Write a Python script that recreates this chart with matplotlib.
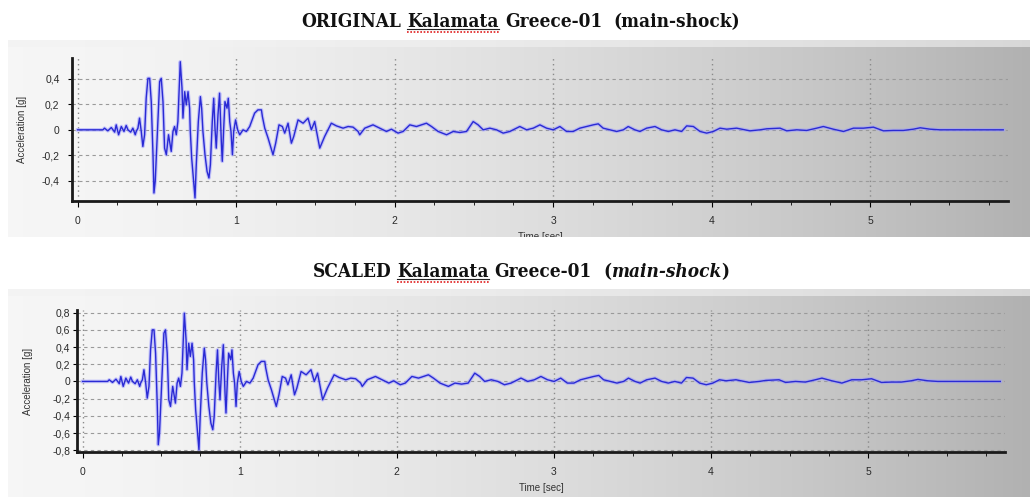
import numpy as np
import matplotlib
matplotlib.use("Agg")
import matplotlib.pyplot as plt
from matplotlib.ticker import FuncFormatter, MultipleLocator
from matplotlib.transforms import Bbox

# accelerogram (time in s, acceleration in g)
time_s = [
    0.000, 0.160, 0.170, 0.191, 0.213, 0.234, 0.244, 0.259, 0.276, 0.293,
    0.307, 0.318, 0.335, 0.349, 0.364, 0.370, 0.381, 0.391, 0.402, 0.412,
    0.423, 0.433, 0.444, 0.455, 0.465, 0.476, 0.482, 0.490, 0.503, 0.518,
    0.528, 0.539, 0.549, 0.560, 0.574, 0.591, 0.602, 0.612, 0.623, 0.633,
    0.648, 0.659, 0.665, 0.676, 0.686, 0.697, 0.707, 0.711, 0.720, 0.732,
    0.741, 0.749, 0.762, 0.775, 0.783, 0.791, 0.804, 0.817, 0.829, 0.838,
    0.850, 0.859, 0.867, 0.875, 0.886, 0.896, 0.907, 0.913, 0.922, 0.930,
    0.943, 0.951, 0.960, 0.968, 0.977, 0.985, 0.997, 1.010, 1.023, 1.044,
    1.065, 1.086, 1.117, 1.138, 1.160, 1.166, 1.181, 1.202, 1.233, 1.250,
    1.271, 1.292, 1.307, 1.328, 1.349, 1.364, 1.391, 1.423, 1.454, 1.475,
    1.496, 1.528, 1.559, 1.601, 1.633, 1.675, 1.707, 1.738, 1.770, 1.780,
    1.812, 1.864, 1.907, 1.949, 1.980, 2.022, 2.054, 2.096, 2.138, 2.201,
    2.233, 2.275, 2.328, 2.370, 2.412, 2.454, 2.496, 2.527, 2.559, 2.601,
    2.643, 2.685, 2.727, 2.790, 2.833, 2.875, 2.917, 2.959, 3.001, 3.043,
    3.085, 3.127, 3.169, 3.211, 3.253, 3.285, 3.316, 3.359, 3.401, 3.443,
    3.474, 3.516, 3.548, 3.590, 3.643, 3.685, 3.727, 3.769, 3.811, 3.843,
    3.885, 3.927, 3.969, 4.011, 4.053, 4.095, 4.158, 4.242, 4.306, 4.348,
    4.432, 4.474, 4.537, 4.600, 4.663, 4.705, 4.768, 4.832, 4.895, 4.958,
    5.021, 5.084, 5.147, 5.210, 5.273, 5.316, 5.379, 5.442, 5.840,
]
accel_g = [
    0.000, 0.000, 0.013, -0.008, 0.018, -0.018, 0.039, -0.039, 0.026, -0.013,
    0.034, 0.000, -0.018, 0.013, -0.039, -0.013, 0.013, 0.092, -0.013, -0.131,
    -0.039, 0.248, 0.405, 0.405, 0.222, -0.196, -0.497, -0.405, -0.039, 0.379,
    0.405, 0.222, -0.144, -0.196, -0.039, -0.170, -0.013, 0.026, -0.039, 0.065,
    0.536, 0.327, 0.092, 0.300, 0.196, 0.300, 0.170, 0.000, -0.222, -0.405,
    -0.536, -0.275, 0.065, 0.261, 0.170, -0.013, -0.196, -0.327, -0.379, -0.275,
    0.065, 0.248, 0.013, -0.144, 0.118, 0.288, -0.092, -0.248, 0.013, 0.222,
    0.170, 0.248, 0.065, -0.013, -0.196, -0.013, 0.078, 0.000, -0.039, 0.000,
    -0.013, 0.026, 0.131, 0.157, 0.157, 0.105, 0.013, -0.065, -0.196, -0.105,
    0.039, 0.026, -0.026, 0.052, -0.105, -0.052, 0.078, 0.052, 0.092, 0.000,
    0.065, -0.144, -0.052, 0.052, 0.031, 0.013, 0.026, 0.021, -0.013, -0.039,
    0.013, 0.039, 0.013, -0.013, 0.005, -0.026, -0.013, 0.039, 0.026, 0.052,
    0.026, -0.013, -0.039, -0.013, -0.021, -0.013, 0.065, 0.039, 0.000, 0.013,
    0.000, -0.026, -0.013, 0.026, 0.000, 0.013, 0.039, 0.013, 0.000, 0.026,
    -0.013, -0.013, 0.013, 0.026, 0.039, 0.047, 0.013, 0.000, -0.013, 0.000,
    0.026, 0.000, -0.013, 0.013, 0.026, 0.000, -0.013, 0.000, -0.013, 0.031,
    0.026, -0.013, -0.026, -0.013, 0.013, 0.005, 0.013, -0.008, 0.000, 0.008,
    0.013, -0.008, 0.000, -0.005, 0.013, 0.026, 0.005, -0.013, 0.013, 0.013,
    0.021, -0.008, -0.005, -0.005, 0.005, 0.016, 0.005, 0.000, 0.000,
]
# the SCALED record is the same accelerogram times this factor
scale_factor = 1.48

x_ticks = [0, 1, 2, 3, 4, 5]
y_ticks_orig = [-0.4, -0.2, 0, 0.2, 0.4]
y_ticks_scaled = [-0.8, -0.6, -0.4, -0.2, 0, 0.2, 0.4, 0.6, 0.8]

W, H = 1030, 497
fig = plt.figure(figsize=(W / 100, H / 100), dpi=100)
fig.patch.set_facecolor("white")

# background canvas in pixel coords for the grey gradient panels
bg = fig.add_axes([0, 0, 1, 1], zorder=-10)
ramp = np.linspace(0, 1, 600)
shade = 0.965 - 0.27 * ramp ** 1.6
img = np.dstack([shade, shade, shade])
panels = [(8, W, 40, 237), (8, W, 289, 497)]
for x0, x1, y0, y1 in panels:
    bg.imshow(img, extent=(x0, x1, y1, y0), aspect="auto", interpolation="bilinear")
    bg.axhspan(y0, y0 + 7, xmin=x0 / W, xmax=1, color="#f2f2f2", alpha=0.6, lw=0)
bg.set_xlim(0, W)
bg.set_ylim(H, 0)
bg.axis("off")


def comma_fmt(v, pos):
    if abs(v) < 1e-9:
        return "0"
    return f"{v:.1f}".replace(".", ",")


def setup_axes(rect, y_ticks, ylim, ypad, clip_px):
    ax = fig.add_axes(rect)
    ax.patch.set_visible(False)
    ax.set_xlim(-0.035, 5.87)
    ax.set_ylim(*ylim)
    ax.set_xticks(x_ticks)
    ax.set_yticks(y_ticks)
    ax.xaxis.set_minor_locator(MultipleLocator(0.25))
    ax.yaxis.set_major_formatter(FuncFormatter(comma_fmt))
    for s in ["top", "right"]:
        ax.spines[s].set_visible(False)
    for s in ["left", "bottom"]:
        ax.spines[s].set_linewidth(2.0)
        ax.spines[s].set_color("#1a1a1a")
    ax.tick_params(axis="x", which="major", labelsize=7.5, length=4, width=0.8,
                   pad=7, labelcolor="#2a2a2a", labelfontfamily="Liberation Sans")
    ax.tick_params(axis="x", which="minor", length=3, width=0.6)
    ax.tick_params(axis="y", labelsize=7.5, length=3, width=0.8, pad=ypad,
                   labelcolor="#2a2a2a", labelfontfamily="Liberation Sans")
    ax.yaxis.grid(True, linestyle=(0, (3, 3)), color="#9a9a9a", lw=0.8)
    ax.xaxis.grid(True, linestyle=(0, (1, 2.5)), color="#8a8a8a", lw=1.0)
    ax.set_axisbelow(True)
    ax.set_ylabel("Acceleration [g]", fontsize=7, family="Liberation Sans", color="#333333")
    xl = ax.set_xlabel("Time [sec]", fontsize=7, family="Liberation Sans", color="#333333")
    ax.xaxis.set_label_coords(0.5, -0.22)
    xl.set_clip_box(Bbox.from_extents(clip_px[0], H - clip_px[3], clip_px[1], H - clip_px[2]))
    xl.set_clip_on(True)
    return ax


ax1 = setup_axes([72 / W, 1 - 201 / H, 936 / W, 143 / H], y_ticks_orig,
                 (-0.56, 0.565), 6, panels[0])
ax1.yaxis.set_label_coords(-0.048, 0.5)
ax2 = setup_axes([77 / W, 1 - 452 / H, 928 / W, 142 / H], y_ticks_scaled,
                 (-0.82, 0.83), 2, panels[1])
ax2.yaxis.set_label_coords(-0.047, 0.5)

scaled_g = [a * scale_factor for a in accel_g]
for ax, series in [(ax1, accel_g), (ax2, scaled_g)]:
    ax.plot(time_s, series, color="#9c9cff", lw=2.6, alpha=0.55, solid_joinstyle="round")
    ax.plot(time_s, series, color="#2a2ad4", lw=1.0)

# titles built from pieces so the italic part and the underlined word can be placed
renderer = fig.canvas.get_renderer()
title_font = dict(family="DejaVu Serif", weight="heavy", stretch="condensed", color="#111111")


def draw_title(pieces, gaps, yc, size, center=521):
    texts = []
    for s, style in pieces:
        t = fig.text(0, 1 - yc / H, s, fontsize=size, style=style, va="center",
                     ha="left", **title_font)
        texts.append(t)
    probe = fig.text(0, 0, "a a", fontsize=size, **title_font)
    probe2 = fig.text(0, 0, "aa", fontsize=size, **title_font)
    sp = probe.get_window_extent(renderer).width - probe2.get_window_extent(renderer).width
    probe.remove()
    probe2.remove()
    widths = [t.get_window_extent(renderer).width for t in texts]
    total = sum(widths) + sp * sum(gaps)
    x = center - total / 2
    boxes = []
    for i, (t, w) in enumerate(zip(texts, widths)):
        t.set_x(x / W)
        boxes.append((x, x + w))
        x += w + (sp * gaps[i] if i < len(gaps) else 0)
    return boxes, total


top_pieces = [("ORIGINAL", "normal"), ("Kalamata", "normal"),
              ("Greece-01", "normal"), ("(main-shock)", "normal")]
bot_pieces = [("SCALED", "normal"), ("Kalamata", "normal"), ("Greece-01", "normal"),
              ("(", "normal"), ("main-shock", "italic"), (")", "normal")]

# pick size so the top title spans about 438 px like the reference
size = 15
_, tot = draw_title(top_pieces, [1, 1, 2], -100, size)
for t in list(fig.texts):
    t.remove()
size = size * 438 / tot

for pieces, gaps, yc in [(top_pieces, [1, 1, 2], 22), (bot_pieces, [1, 1, 2, 0, 0], 272)]:
    boxes, _ = draw_title(pieces, gaps, yc, size)
    kx0, kx1 = boxes[1]
    yb = yc + size * 100 / 72 * 0.38
    bg.plot([kx0, kx1], [yb, yb], color="#222222", lw=0.8)
    bg.plot([kx0, kx1], [yb + 2.5, yb + 2.5], color="#e02020", lw=1.2, ls=(0, (1, 1)))

fig.savefig("out.png", dpi=100, facecolor="white")
